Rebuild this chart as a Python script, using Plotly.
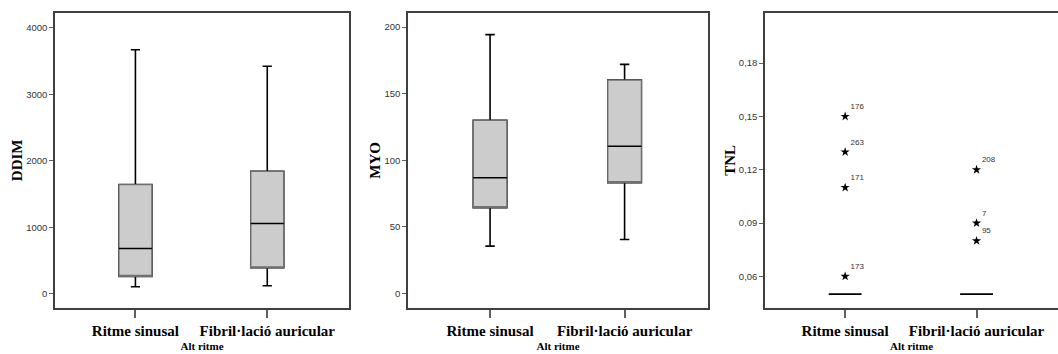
import plotly.graph_objects as go

categories = ["Ritme sinusal", "Fibril·lació auricular"]
xpos = [0, 1]

ddim_low = [105, 120]
ddim_q1 = [261, 390]
ddim_med = [681, 1057]
ddim_q3 = [1642, 1842]
ddim_high = [3673, 3423]

myo_low = [35.5, 40.4]
myo_q1 = [64.4, 83.2]
myo_med = [86.8, 110.5]
myo_q3 = [130, 160.2]
myo_high = [194.3, 172]

tnl_low = [0.05, 0.05]
tnl_q1 = [0.05, 0.05]
tnl_med = [0.05, 0.05]
tnl_q3 = [0.05, 0.05]
tnl_high = [0.05, 0.05]

tnl_out_rs_vals = [0.15, 0.13, 0.11, 0.06]
tnl_out_rs_ids = ["176", "263", "171", "173"]
tnl_out_fa_vals = [0.12, 0.09, 0.08]
tnl_out_fa_ids = ["208", "7", "95"]

BOXW = 0.25
FILL = "#cccccc"
EDGE = "#707070"
FRAME = "#404040"

fig = go.Figure()


def add_boxes(low, q1, med, q3, high, xa, ya):
    # whiskers + black outline
    fig.add_trace(go.Box(
        x=xpos, q1=q1, median=med, q3=q3, lowerfence=low, upperfence=high,
        width=BOXW, whiskerwidth=0.28, fillcolor="rgba(0,0,0,0)",
        line=dict(color="black", width=1.6), boxpoints=False,
        xaxis=xa, yaxis=ya, showlegend=False, hoverinfo="skip"))
    # filled box with grey edge, no whiskers
    fig.add_trace(go.Box(
        x=xpos, q1=q1, median=q1, q3=q3, lowerfence=q1, upperfence=q3,
        width=BOXW, whiskerwidth=0, fillcolor=FILL,
        line=dict(color=EDGE, width=1.3), boxpoints=False,
        xaxis=xa, yaxis=ya, showlegend=False, hoverinfo="skip"))
    # median in black
    mx, my = [], []
    for x, m in zip(xpos, med):
        mx += [x - BOXW / 2, x + BOXW / 2, None]
        my += [m, m, None]
    fig.add_trace(go.Scatter(x=mx, y=my, mode="lines",
                             line=dict(color="black", width=1.5),
                             xaxis=xa, yaxis=ya, showlegend=False, hoverinfo="skip"))


add_boxes(ddim_low, ddim_q1, ddim_med, ddim_q3, ddim_high, "x", "y")
add_boxes(myo_low, myo_q1, myo_med, myo_q3, myo_high, "x2", "y2")

# TNL: collapsed boxes
fig.add_trace(go.Box(
    x=xpos, q1=tnl_q1, median=tnl_med, q3=tnl_q3, lowerfence=tnl_low, upperfence=tnl_high,
    width=BOXW, whiskerwidth=0.28, fillcolor=FILL,
    line=dict(color="black", width=1.6), boxpoints=False,
    xaxis="x3", yaxis="y3", showlegend=False, hoverinfo="skip"))

for xi, vals, ids in [(xpos[0], tnl_out_rs_vals, tnl_out_rs_ids),
                      (xpos[1], tnl_out_fa_vals, tnl_out_fa_ids)]:
    fig.add_trace(go.Scatter(
        x=[xi] * len(vals), y=vals, mode="markers+text", text=ids,
        textposition="top right",
        textfont=dict(family="Liberation Sans", size=8, color="#333333"),
        marker=dict(symbol="star", size=7, color="black"),
        xaxis="x3", yaxis="y3", showlegend=False, hoverinfo="skip"))

ytop = 1 - 12.7 / 354
ybot = 1 - 308 / 354

tickfont_num = dict(family="Liberation Sans", size=9.5, color="#333333")
catfont = dict(family="Liberation Serif", size=15, color="black")
xtitle = dict(text="<b>Alt ritme</b>", font=dict(family="Liberation Serif", size=11, color="black"), standoff=5)


def xaxis_cfg(dom):
    return dict(domain=dom, range=[-0.61, 1.62], tickvals=xpos,
                ticktext=["<b>%s</b>" % c for c in categories],
                tickfont=catfont, ticks="outside", ticklen=8, tickcolor="#606060",
                tickwidth=1.5, showline=True, mirror=True, linecolor=FRAME, linewidth=1.5,
                showgrid=False, zeroline=False, title=xtitle, fixedrange=True,
                automargin=False)


def yaxis_cfg(rng, title, **kw):
    d = dict(domain=[ybot, ytop], range=rng, ticks="outside", ticklen=4,
             tickcolor="#606060", tickwidth=1, tickfont=tickfont_num,
             showline=True, mirror=True, linecolor=FRAME, linewidth=1.5,
             showgrid=False, zeroline=False, automargin=False,
             title=dict(text="<b>%s</b>" % title,
                        font=dict(family="Liberation Serif", size=15, color="black"),
                        standoff=0))
    d.update(kw)
    return d


fig.update_layout(
    width=1058, height=354,
    margin=dict(l=0, r=0, t=0, b=0),
    paper_bgcolor="white", plot_bgcolor="white",
    separators=",.",
    xaxis=dict(**xaxis_cfg([55 / 1058, 349 / 1058]), anchor="y"),
    xaxis2=dict(**xaxis_cfg([408 / 1058, 708 / 1058]), anchor="y2"),
    xaxis3=dict(**xaxis_cfg([765 / 1058, 1.0]), anchor="y3"),
    yaxis=yaxis_cfg([-215, 4230], "DDIM", dtick=1000, anchor="x"),
    yaxis2=yaxis_cfg([-11, 210.8], "MYO", dtick=50, anchor="x2"),
    yaxis3=yaxis_cfg([0.0422, 0.2084], "TNL", tickvals=[0.06, 0.09, 0.12, 0.15, 0.18],
                     tickformat=".2f", anchor="x3", mirror=False),
)

fig.write_html("out.html", config={"displayModeBar": False},
               post_script="document.body.style.margin='0';document.body.style.overflow='hidden';")
